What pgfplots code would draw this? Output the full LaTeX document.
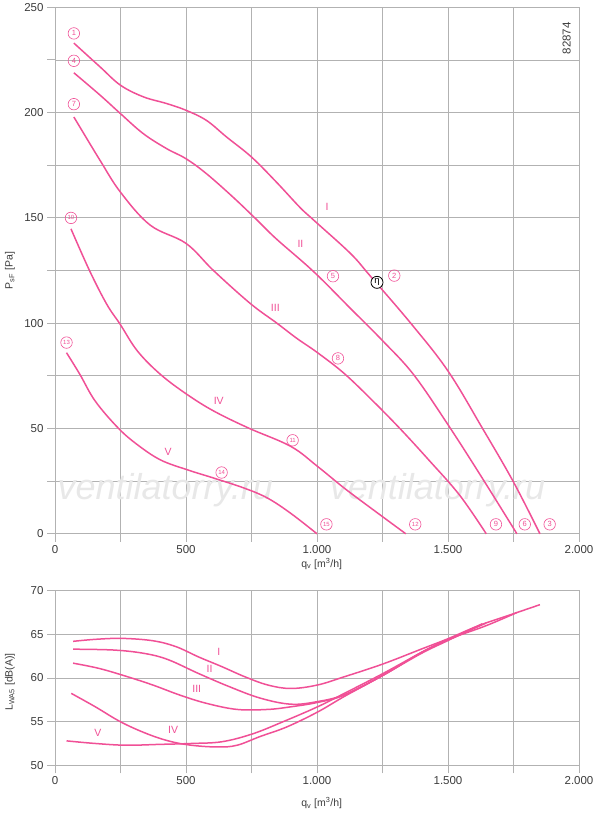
\documentclass[border=0pt]{standalone}
\usepackage{pgfplots}
\pgfplotsset{compat=1.18}
\usepackage{fontspec}
\setmainfont{Liberation Sans}
\definecolor{pk}{RGB}{240,80,150}
\definecolor{gridc}{RGB}{178,178,178}
\definecolor{txt}{RGB}{60,60,60}
\tikzset{
  cn/.style={circle, draw=pk, text=pk, line width=0.6pt, inner sep=0pt, minimum size=11.5pt, font=\fontsize{7.5}{7.5}\selectfont},
  cnn/.style={cn, font=\fontsize{6}{6}\selectfont},
  rn/.style={text=pk, font=\fontsize{10.5}{12}\selectfont},
  wm/.style={font=\fontsize{36}{36}\selectfont\itshape, text=black!9},
}
\pgfplotsset{
  mystyle/.style={
    scale only axis, width=524pt, xmin=0, xmax=2000, clip=false,
    axis line style={gridc, line width=1pt},
    grid=major, major grid style={gridc, line width=0.9pt},
    tick align=outside, major tick length=8pt,
    every tick/.style={draw=gridc, line width=1pt},
    xtick pos=bottom, ytick pos=left,
    xtick={0,250,...,2000}, xticklabels={0,,500,,1.000,,1.500,,2.000},
    ticklabel style={font=\fontsize{11.5}{13}\selectfont, text=txt},
    label style={font=\fontsize{10.5}{12}\selectfont, text=txt},
    /pgf/number format/assume math mode=true,
  },
  crv/.style={pk, line width=1.5pt, smooth, tension=0.6},
}
\begin{document}
\begin{tikzpicture}[x=1pt,y=1pt]
\useasboundingbox (0,0) rectangle (600,-819);
% ---------------- top axis ----------------
\begin{axis}[mystyle, at={(55pt,-7.3pt)}, anchor=north west, height=526.5pt,
  ymin=0, ymax=250, ytick={0,25,...,250}, yticklabels={0,,50,,100,,150,,200,,250},
  xlabel={q\textsubscript{v} [m\textsuperscript{3}/h]},
  xlabel style={at={(axis description cs:0.509,-0.0565)}, anchor=center},
  ylabel={P\textsubscript{sF} [Pa]},
  ylabel style={at={(axis description cs:-0.086,0.5)}, anchor=center},
]
\node[wm] at (axis cs:421,20.8) {ventilatorry.ru};
\node[wm] at (axis cs:1460,20.8) {ventilatorry.ru};
% I
\addplot[crv] coordinates {(72,233) (172,221.7) (250,213) (337,207.5) (426,204.3) (500,201.1) (578,196.3) (655,188.4) (750,178.9) (845,167) (934,155.1) (987,149) (1127,133.2) (1202,122.6) (1361,99.5) (1500,77.3) (1631,50.2) (1749,24.8) (1851,0)};
% II
\addplot[crv] coordinates {(72,218.9) (172,208.3) (250,199.5) (337,190) (426,182.9) (500,178.1) (578,171) (680,159.8) (771,149) (845,140) (987,124.5) (1127,107.1) (1251,91.6) (1368,75.7) (1500,51.8) (1631,26.4) (1763,0)};
% III
\addplot[crv] coordinates {(72,197.9) (172,177.3) (250,162.2) (363,146.6) (500,137.9) (605,125) (745,109.4) (847,100) (923,92.8) (1002,86) (1105,76) (1222,62) (1324,49) (1427,35) (1544,18.4) (1646,0)};
% IV
\addplot[crv] coordinates {(61,144.8) (131.7,125) (197.5,109) (248.7,99.5) (314.6,86.8) (402.4,75.7) (504.8,66.1) (607.3,58.2) (739,50.2) (900,41.5) (1002,32) (1105,21.6) (1207,12.1) (1339,0)};
% V
\addplot[crv] coordinates {(43.9,86) (95,75.7) (153.6,63) (241.4,50.2) (314.6,42.3) (402.4,35.1) (504.8,30.4) (607.3,26.4) (724.3,21.6) (812,16.9) (900,9.7) (1000,0)};
% circled numbers
\node[cn] at (axis cs:72,237.6) {1};
\node[cn] at (axis cs:72,224.6) {4};
\node[cn] at (axis cs:72,204) {7};
\node[cnn] at (axis cs:61,150) {10};
\node[cnn] at (axis cs:44,90.8) {13};
\node[cn] at (axis cs:1295,122.6) {2};
\node[cn] at (axis cs:1061,122.3) {5};
\node[cn] at (axis cs:1080,83.3) {8};
\node[cnn] at (axis cs:907,44.4) {11};
\node[cnn] at (axis cs:636,29.1) {14};
\node[cnn] at (axis cs:1036,4.5) {15};
\node[cnn] at (axis cs:1375,4.5) {12};
\node[cn] at (axis cs:1683,4.5) {9};
\node[cn] at (axis cs:1793,4.5) {6};
\node[cn] at (axis cs:1888,4.5) {3};
\node[circle, draw=black, line width=0.8pt, inner sep=0pt, minimum size=12pt, fill=white, font=\fontsize{9.5}{9.5}\selectfont] at (axis cs:1229,119.4) {η};
% roman labels
\node[rn] at (axis cs:1038,155) {I};
\node[rn] at (axis cs:937,137.6) {II};
\node[rn] at (axis cs:841,107.5) {III};
\node[rn] at (axis cs:625,63.3) {IV};
\node[rn] at (axis cs:432,39.1) {V};
\node[rotate=90, text=txt, font=\fontsize{11.5}{13}\selectfont] at (axis cs:1953,235.3) {82874};
\end{axis}
% ---------------- bottom axis ----------------
\begin{axis}[mystyle, at={(55pt,-590.7pt)}, anchor=north west, height=174.6pt,
  ymin=50, ymax=70, ytick={50,55,...,70}, yticklabels={50,55,60,65,70},
  xlabel={q\textsubscript{v} [m\textsuperscript{3}/h]},
  xlabel style={at={(axis description cs:0.509,-0.216)}, anchor=center},
  ylabel={L\textsubscript{WA5} [dB(A)]},
  ylabel style={at={(axis description cs:-0.086,0.477)}, anchor=center},
]
% I
\addplot[crv] coordinates {(69,64.2) (154,64.43) (256,64.54) (373,64.27) (461,63.6) (549,62.4) (637,61.3) (724,60.15) (812,59.2) (900,58.8) (1002,59.2) (1105,60.15) (1251,61.6) (1397,63.3) (1500,64.5) (1617,66) (1734,67.2) (1851,68.4)};
% II
\addplot[crv] coordinates {(69,63.3) (227,63.2) (344,62.8) (432,62.1) (549,60.5) (666,59) (783,57.7) (900,57) (1002,57.3) (1105,58.1) (1251,60.3) (1397,62.9) (1500,64.4) (1646,66.0) (1763,67.5)};
% III
\addplot[crv] coordinates {(69,61.7) (168,61.1) (271,60.2) (373,59.2) (476,58.05) (578,57.1) (695,56.4) (812,56.4) (900,56.7) (1002,57.2) (1105,58.05) (1251,60.3) (1397,62.9) (1500,64.35) (1646,66.3)};
% IV
\addplot[crv] coordinates {(62,58.24) (154,56.7) (249,55) (344,53.7) (432,52.8) (520,52.3) (622,52.1) (695,52.3) (783,53.3) (885,54.4) (1002,56.1) (1105,57.9) (1251,60.3) (1397,62.8) (1500,64.3) (1630,66.2)};
% V
\addplot[crv] coordinates {(44,52.8) (154,52.5) (271,52.3) (402,52.4) (520,52.5) (637,52.7) (754,53.6) (871,55) (1002,56.7) (1105,58.25) (1251,60.5) (1397,62.9) (1500,64.4) (1620,66.0)};
\node[rn] at (axis cs:625,63.0) {I};
\node[rn] at (axis cs:590,61.0) {II};
\node[rn] at (axis cs:541,58.7) {III};
\node[rn] at (axis cs:451,54.1) {IV};
\node[rn] at (axis cs:164,53.7) {V};
\end{axis}
\end{tikzpicture}
\end{document}
